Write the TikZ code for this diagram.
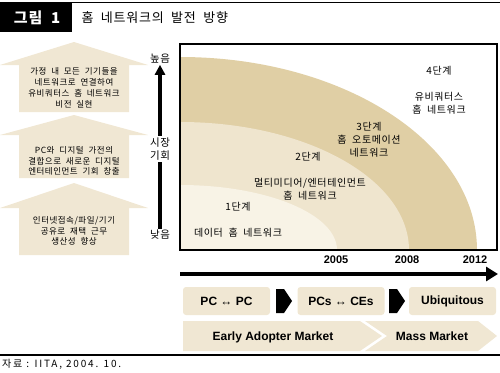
\documentclass[tikz,border=0pt]{standalone}
\usepackage{fontspec}
\setmainfont{Liberation Sans}
\newfontfamily\kr[LetterSpace=6,WordSpace=2]{Noto Sans CJK KR}
\newfontfamily\krsrc[LetterSpace=18,WordSpace=1]{Noto Sans CJK KR}
\usetikzlibrary{arrows.meta}
\definecolor{tandark}{HTML}{E0CFA5}
\definecolor{tanmid}{HTML}{EFE5CE}
\definecolor{tanlight}{HTML}{F8F3E6}
\definecolor{boxtan}{HTML}{F0E7D3}
\tikzset{
  stagetext/.style={font=\kr\fontsize{10}{13}\selectfont, align=center, inner sep=0pt},
  lefttext/.style={font=\kr\fontsize{8.5}{10.8}\selectfont, align=center, inner sep=0pt},
  axistext/.style={font=\kr\fontsize{10.5}{12.5}\selectfont, align=center, inner sep=1pt},
  yeartext/.style={font=\bfseries\fontsize{11}{13}\selectfont, inner sep=0pt},
  stagebox/.style={fill=boxtan, rounded corners=3pt, minimum height=28pt, minimum width=87pt,
    font=\bfseries\fontsize{12}{14}\selectfont, inner sep=0pt},
  markettext/.style={font=\bfseries\fontsize{12}{14}\selectfont, inner sep=0pt}
}
\begin{document}
\begin{tikzpicture}[x=1pt, y=-1pt]
\useasboundingbox (0,0) rectangle (500,372);
% title
\draw[line width=1.5pt](0,2.5)--(500,2.5);
\fill(0,2.5) rectangle (72,32);
\node[font=\kr\bfseries\fontsize{15}{15}\selectfont, text=white] (fig) at (37,17.5) {그림 1};
\node[font=\kr\fontsize{13}{13}\selectfont, anchor=west] (title) at (78,17.5) {홈 네트워크의 발전 방향};

% left column
\foreach \ya/\yb/\yc in {42/65/112, 115/135/178, 183/208/255}
{
    \fill[boxtan](74,\ya)--(148,\yb)--(129,\yb)--(129,\yc)--(19,\yc)--(19,\yb)--(0,\yb)--cycle;
}
\node[lefttext] (need3) at (74,88) {가정 내 모든 기기들을\\네트워크로 연결하여\\유비쿼터스 홈 네트워크\\비전 실현};
\node[lefttext] (need2) at (74,161) {PC와 디지털 가전의\\결합으로 새로운 디지털\\엔터테인먼트 기회 창출};
\node[lefttext] (need1) at (74,231) {인터넷접속/파일/기기\\공유로 재택 근무\\생산성 향상};

\node[axistext] (high) at (160,59) {높음};
\node[axistext] (low) at (160,235) {낮음};
\draw[line width=3.5pt, -{Triangle[length=10pt,width=10pt]}](low.north)--(high.south);
\node[axistext, fill=white, inner sep=2pt] (chance) at (160,149) {시장\\기회};

% chart
\begin{scope}
\clip(180,44) rectangle (497,250);
\fill[tandark](180,250) ellipse [x radius=297, y radius=193];
\fill[tanmid](180,250) ellipse [x radius=229, y radius=128];
\fill[tanlight](180,250) ellipse [x radius=157, y radius=65];
\end{scope}
\draw[line width=1.5pt](180,44) rectangle (497,250);

\node[stagetext] (s4) at (439,71) {4단계};
\node[stagetext] (s4t) at (439,103.5) {유비쿼터스\\홈 네트워크};
\node[stagetext] (s3) at (369,140) {3단계\\홈 오토메이션\\네트워크};
\node[stagetext] (s2) at (308,157) {2단계};
\node[stagetext] (s2t) at (310,189.5) {멀티미디어/엔터테인먼트\\홈 네트워크};
\node[stagetext] (s1) at (238,207) {1단계};
\node[stagetext] (s1t) at (238,233) {데이터 홈 네트워크};

% timeline
\foreach \yr/\xx in {2005/336, 2008/407, 2012/475}
{
    \node[yeartext] (y\yr) at (\xx,260) {\yr};
}
\coordinate (t0) at (180,274);
\coordinate (t1) at (498,274);
\draw[line width=4pt, -{Triangle[length=12pt,width=14pt]}](t0)--(t1);

\node[stagebox] (pcpc) at (226.5,301) {PC ↔ PC};
\node[stagebox] (pcce) at (341,301) {PCs ↔ CEs};
\node[stagebox] (ubi) at (452.5,301) {Ubiquitous};
\foreach \xx in {276,389}
{
    \fill(\xx,289)--(\xx+8,289)--(\xx+16,301)--(\xx+8,313)--(\xx,313)--cycle;
}

\fill[boxtan](183,321)--(360,321)--(382,336)--(360,351)--(183,351)--cycle;
\fill[boxtan](365,321)--(478,321)--(497,336)--(478,351)--(365,351)--(387,336)--cycle;
\node[markettext] (early) at (273,337) {Early Adopter Market};
\node[markettext] (mass) at (432,336) {Mass Market};

% source
\draw[line width=1.2pt](0,355)--(500,355);
\node[font=\krsrc\fontsize{10}{11}\selectfont, anchor=west, inner sep=0pt] (src) at (2,364) {자료 : IITA, 2004. 10.};
\end{tikzpicture}
\end{document}
